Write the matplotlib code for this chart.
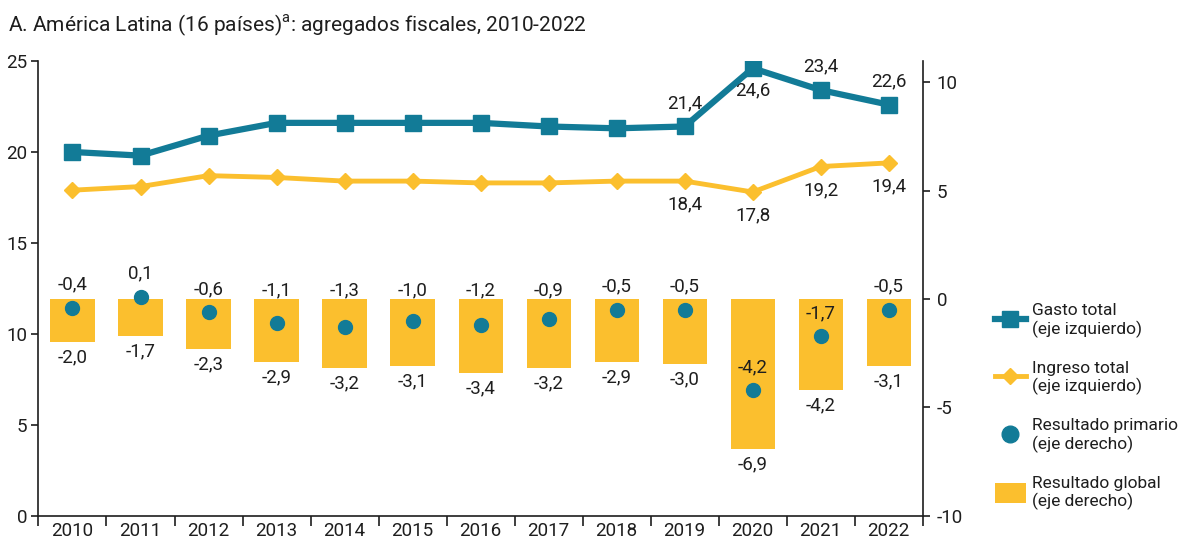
import numpy as np
import matplotlib
matplotlib.use("Agg")
import matplotlib.pyplot as plt
from matplotlib.lines import Line2D
from matplotlib.patches import Patch

# data (percent of GDP)
years = ["2010", "2011", "2012", "2013", "2014", "2015", "2016",
         "2017", "2018", "2019", "2020", "2021", "2022"]
gasto = [20.0, 19.8, 20.9, 21.6, 21.6, 21.6, 21.6, 21.4, 21.3, 21.4, 24.6, 23.4, 22.6]
ingreso = [17.9, 18.1, 18.7, 18.6, 18.4, 18.4, 18.3, 18.3, 18.4, 18.4, 17.8, 19.2, 19.4]
primario = [-0.4, 0.1, -0.6, -1.1, -1.3, -1.0, -1.2, -0.9, -0.5, -0.5, -4.2, -1.7, -0.5]
glob = [-2.0, -1.7, -2.3, -2.9, -3.2, -3.1, -3.4, -3.2, -2.9, -3.0, -6.9, -4.2, -3.1]
# which line points get a value label
labeled = ["2019", "2020", "2021", "2022"]
gasto_above = {"2019": True, "2020": False, "2021": True, "2022": True}

teal = "#127b97"
yellow = "#fbbf2e"
txt = "#1e1e1e"
fs = 13.5

plt.rcParams["font.family"] = ["Roboto", "DejaVu Sans"]
plt.rcParams["mathtext.fontset"] = "custom"
plt.rcParams["mathtext.rm"] = "Roboto"
plt.rcParams["axes.unicode_minus"] = False
plt.rcParams["text.color"] = txt
plt.rcParams["xtick.color"] = txt
plt.rcParams["ytick.color"] = txt

fig = plt.figure(figsize=(11.8, 5.42), dpi=100)
ax = fig.add_axes([0.0326, 0.048, 0.782 - 0.0326, 0.8875 - 0.048])
ax2 = ax.twinx()

x = np.arange(len(years))

# right axis: bars + dots
ax2.bar(x, glob, width=0.65, color=yellow, zorder=1)
ax2.plot(x, primario, "o", color=teal, markersize=10, zorder=3)
for i, (p, g) in enumerate(zip(primario, glob)):
    ax2.annotate(f"{g:.1f}".replace(".", ","), (i, g), xytext=(0, -11),
                 textcoords="offset points", ha="center", va="center", fontsize=fs)
    yl = p + 1.06
    if p > -1.5:
        yl = max(yl, 0.42)
    ax2.text(i, yl, f"{p:.1f}".replace(".", ","), ha="center", va="center", fontsize=fs)

ax2.set_ylim(-10, 10.97)
ax2.set_yticks([-10, -5, 0, 5, 10])
ax2.tick_params(axis="y", direction="out", length=5, width=1.2, labelsize=fs, pad=5)

# left axis: lines
ax.plot(x, gasto, "-s", color=teal, lw=4.5, markersize=11, zorder=5)
ax.plot(x, ingreso, "-D", color=yellow, lw=3.5, markersize=8, zorder=5)
for i, yr in enumerate(years):
    if yr in labeled:
        off = 17 if gasto_above[yr] else -16
        ax.annotate(f"{gasto[i]:.1f}".replace(".", ","), (i, gasto[i]), xytext=(0, off),
                    textcoords="offset points", ha="center", va="center", fontsize=fs)
        ax.annotate(f"{ingreso[i]:.1f}".replace(".", ","), (i, ingreso[i]), xytext=(0, -17),
                    textcoords="offset points", ha="center", va="center", fontsize=fs)

ax.set_ylim(0, 25)
ax.set_yticks([0, 5, 10, 15, 20, 25])
ax.tick_params(axis="y", direction="out", length=5, width=1.2, labelsize=fs, pad=3)

ax.set_xlim(-0.5, len(years) - 0.5)
ax.set_xticks(x)
ax.set_xticklabels(years)
ax.set_xticks(np.arange(len(years) + 1) - 0.5, minor=True)
ax.tick_params(axis="x", which="major", length=0, labelsize=fs, pad=4)
ax.tick_params(axis="x", which="minor", direction="out", length=7, width=1.2)

for a in (ax, ax2):
    a.spines["top"].set_visible(False)
    for s in ("left", "right", "bottom"):
        a.spines[s].set_linewidth(1.2)
        a.spines[s].set_color(txt)
ax.spines["right"].set_visible(False)
ax2.spines["left"].set_visible(False)
ax2.spines["bottom"].set_visible(False)

fig.text(0.007, 0.953, r"A. América Latina (16 países)$^{\mathrm{a}}$: agregados fiscales, 2010-2022",
         fontsize=15, ha="left", va="center")

handles = [
    Line2D([], [], color=teal, lw=4.5, marker="s", markersize=11),
    Line2D([], [], color=yellow, lw=3.5, marker="D", markersize=8),
    Line2D([], [], color=teal, lw=0, marker="o", markersize=12),
    Patch(facecolor=yellow),
]
labels = ["Gasto total\n(eje izquierdo)", "Ingreso total\n(eje izquierdo)",
          "Resultado primario\n(eje derecho)", "Resultado global\n(eje derecho)"]
fig.legend(handles, labels, loc="upper left", bbox_to_anchor=(0.836, 0.457),
           frameon=False, fontsize=12.5, handlelength=1.75, handletextpad=0.4,
           labelspacing=1.3, borderpad=0, handleheight=1.4)

fig.savefig("out.png", dpi=100)
